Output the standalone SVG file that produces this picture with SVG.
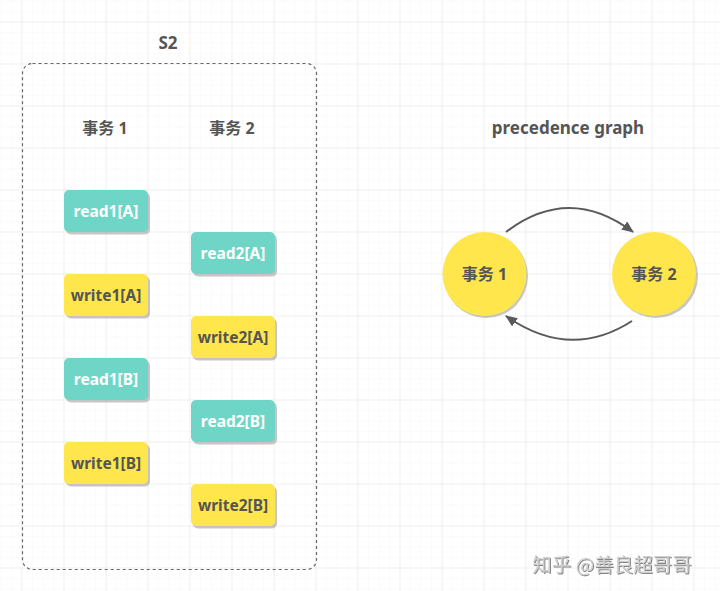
<svg xmlns="http://www.w3.org/2000/svg" width="720" height="591" viewBox="0 0 720 591">
<defs>
<pattern id="minor" x="22.5" y="22.5" width="10.5" height="10.5" patternUnits="userSpaceOnUse">
<path d="M10.5 0V10.5H0" fill="none" stroke="#f7f7f7" stroke-width="1"/>
</pattern>
<pattern id="major" x="22.5" y="22.5" width="42" height="42" patternUnits="userSpaceOnUse">
<path d="M42 0V42H0" fill="none" stroke="#e4e4e4" stroke-width="1"/>
</pattern>
<marker id="ah" viewBox="0 0 12 10" refX="11" refY="5" markerWidth="12" markerHeight="10" markerUnits="userSpaceOnUse" orient="auto">
<path d="M0 0L12 5L0 10Z" fill="#5a5a5a"/>
</marker>
<filter id="wm" x="-10%" y="-30%" width="120%" height="160%">
<feDropShadow dx="1" dy="1" stdDeviation="0.6" flood-color="#666" flood-opacity="0.8"/>
</filter>
</defs>
<style>
.t{font-family:"Noto Sans","Noto Sans CJK SC",sans-serif;font-weight:bold;text-anchor:middle;dominant-baseline:central}
.hd{font-size:16px;fill:#555}
.bx{font-size:15.5px}
.teal{fill:#6fd6c7}
.yel{fill:#fee64c}
.sh{fill:#999;opacity:0.55}
.wt{fill:#fff}
.dk{fill:#555}
.conn{fill:none;stroke:#5a5a5a;stroke-width:2;marker-end:url(#ah)}
</style>
<rect width="720" height="591" fill="#fff"/>
<rect width="720" height="591" fill="url(#minor)"/>
<rect width="720" height="591" fill="url(#major)"/>

<g id="container">
<rect x="22.5" y="63.5" width="294" height="506" rx="10" fill="none" stroke="#666" stroke-width="1.2" stroke-dasharray="3 3"/>
<text class="t hd" x="168" y="42" style="font-size:17px">S2</text>
</g>
<g id="header1"><text class="t hd" x="105" y="128">事务 1</text></g>
<g id="header2"><text class="t hd" x="232" y="128">事务 2</text></g>
<g id="title"><text class="t hd" x="568" y="127" style="font-size:17px">precedence graph</text></g>

<g id="read1A"><rect class="sh" x="66" y="192.5" width="84" height="42" rx="5"/><rect class="teal" x="64" y="190" width="84" height="42" rx="5"/><text class="t bx wt" x="106" y="211">read1[A]</text></g>
<g id="write1A"><rect class="sh" x="66" y="276.5" width="84" height="42" rx="5"/><rect class="yel" x="64" y="274" width="84" height="42" rx="5"/><text class="t bx dk" x="106" y="295">write1[A]</text></g>
<g id="read1B"><rect class="sh" x="66" y="360.5" width="84" height="42" rx="5"/><rect class="teal" x="64" y="358" width="84" height="42" rx="5"/><text class="t bx wt" x="106" y="379">read1[B]</text></g>
<g id="write1B"><rect class="sh" x="66" y="444.5" width="84" height="42" rx="5"/><rect class="yel" x="64" y="442" width="84" height="42" rx="5"/><text class="t bx dk" x="106" y="463">write1[B]</text></g>

<g id="read2A"><rect class="sh" x="193" y="234.5" width="84" height="42" rx="5"/><rect class="teal" x="191" y="232" width="84" height="42" rx="5"/><text class="t bx wt" x="233" y="253">read2[A]</text></g>
<g id="write2A"><rect class="sh" x="193" y="318.5" width="84" height="42" rx="5"/><rect class="yel" x="191" y="316" width="84" height="42" rx="5"/><text class="t bx dk" x="233" y="337">write2[A]</text></g>
<g id="read2B"><rect class="sh" x="193" y="402.5" width="84" height="42" rx="5"/><rect class="teal" x="191" y="400" width="84" height="42" rx="5"/><text class="t bx wt" x="233" y="421">read2[B]</text></g>
<g id="write2B"><rect class="sh" x="193" y="486.5" width="84" height="42" rx="5"/><rect class="yel" x="191" y="484" width="84" height="42" rx="5"/><text class="t bx dk" x="233" y="505">write2[B]</text></g>

<g id="node1"><circle class="sh" cx="486" cy="276" r="42"/><circle class="yel" cx="484.5" cy="274" r="42"/><text class="t hd" x="484.5" y="274">事务 1</text></g>
<g id="node2"><circle class="sh" cx="656" cy="276" r="42"/><circle class="yel" cx="654" cy="274" r="42"/><text class="t hd" x="654" y="274">事务 2</text></g>

<g id="connectors">
<path class="conn" d="M506 232Q569 184 633 232"/>
<path class="conn" d="M632 321Q570 361 506 316"/>
</g>

<text x="612" y="563" font-family="Noto Sans CJK SC,sans-serif" font-size="19.5" fill="#cfcfcf" text-anchor="middle" dominant-baseline="central" filter="url(#wm)">知乎 @善良超哥哥</text>
</svg>
